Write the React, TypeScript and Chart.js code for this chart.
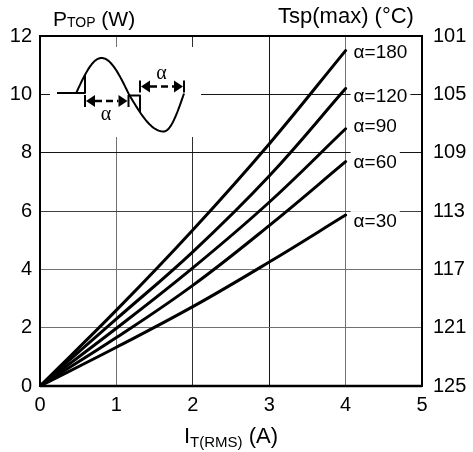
import React, { useEffect, useRef } from 'react';
import { Chart, registerables } from 'chart.js';

Chart.register(...registerables);

// ---- data ----
const currentA = [0, 1, 2, 3, 4];
const alpha180 = [0, 2.6, 5.35, 8.3, 11.5];
const alpha120 = [0, 2.3, 4.6, 7.2, 10.2];
const alpha90 = [0, 1.98, 4.05, 6.3, 8.82];
const alpha60 = [0, 1.66, 3.45, 5.5, 7.69];
const alpha30 = [0, 1.33, 2.72, 4.25, 5.86];
const seriesLabels = ['α=180', 'α=120', 'α=90', 'α=60', 'α=30'];
const rightTickLabels = ['125', '121', '117', '113', '109', '105', '101'];
const labelNudge = [1, 7, -3, 0, 6];

const FONT = '"Liberation Sans", Arial, sans-serif';
const SERIF = '"Liberation Serif", "DejaVu Serif", serif';

const allSeries = [alpha180, alpha120, alpha90, alpha60, alpha30];

const gridColorX: Record<number, string> = { 1: '#707070', 2: '#303030', 3: '#151515', 4: '#707070' };
const gridColorY: Record<number, string> = { 2: '#707070', 4: '#707070', 6: '#404040', 8: '#151515', 10: '#151515' };

function drawArrowPair(ctx: CanvasRenderingContext2D, x1: number, x2: number, y: number) {
  ctx.save();
  ctx.strokeStyle = '#000';
  ctx.fillStyle = '#000';
  ctx.lineWidth = 2;
  ctx.beginPath();
  ctx.moveTo(x1, y - 6); ctx.lineTo(x1, y + 6);
  ctx.moveTo(x2, y - 6); ctx.lineTo(x2, y + 6);
  ctx.stroke();
  ctx.beginPath();
  ctx.moveTo(x1 + 1, y); ctx.lineTo(x1 + 10, y - 6); ctx.lineTo(x1 + 10, y + 6); ctx.closePath();
  ctx.fill();
  ctx.beginPath();
  ctx.moveTo(x2 - 1, y); ctx.lineTo(x2 - 10, y - 6); ctx.lineTo(x2 - 10, y + 6); ctx.closePath();
  ctx.fill();
  ctx.setLineDash([7, 4]);
  ctx.lineWidth = 2.5;
  ctx.beginPath();
  ctx.moveTo(x1 + 10, y); ctx.lineTo(x2 - 10, y);
  ctx.stroke();
  ctx.restore();
}

const decorPlugin = {
  id: 'decor',
  beforeDatasetsDraw(chart: any) {
    const { ctx, chartArea } = chart;
    const L = chartArea.left, T = chartArea.top;
    ctx.save();
    ctx.fillStyle = '#fff';
    ctx.fillRect(L + 10, T + 11, 151, 90);
    ctx.restore();
  },
  afterDatasetsDraw(chart: any) {
    const { ctx, chartArea, scales } = chart;
    const L = chartArea.left, T = chartArea.top;
    const X = (px: number) => L + (px - 40);
    const Y = (py: number) => T + (py - 36);

    const cy = 93.5;
    const quarters = [
      { x0: 76, x1: 101.5, t0: 0, A: 35.5 },
      { x0: 101.5, x1: 128.5, t0: Math.PI / 2, A: 35.5 },
      { x0: 128.5, x1: 163.5, t0: Math.PI, A: 38 },
      { x0: 163.5, x1: 184, t0: 1.5 * Math.PI, A: 38 },
    ];
    ctx.save();
    ctx.strokeStyle = '#000';
    ctx.lineWidth = 2;
    ctx.lineJoin = 'round';
    ctx.beginPath();
    let first = true;
    for (const q of quarters) {
      for (let i = 0; i <= 30; i++) {
        const f = i / 30;
        const px = q.x0 + (q.x1 - q.x0) * f;
        const t = q.t0 + f * Math.PI / 2;
        const py = cy - q.A * Math.sin(t);
        if (first) { ctx.moveTo(X(px), Y(py)); first = false; } else ctx.lineTo(X(px), Y(py));
      }
    }
    ctx.stroke();
    ctx.beginPath();
    ctx.moveTo(X(57), Y(93)); ctx.lineTo(X(85), Y(93)); ctx.lineTo(X(85), Y(74.8));
    ctx.moveTo(X(128.5), Y(95.5)); ctx.lineTo(X(140), Y(95.5)); ctx.lineTo(X(140), Y(112.5));
    ctx.stroke();
    ctx.restore();

    drawArrowPair(ctx, X(85), X(128.5), Y(101));
    drawArrowPair(ctx, X(140), X(184), Y(86.5));

    ctx.save();
    ctx.fillStyle = '#000';
    ctx.font = `20px ${SERIF}`;
    ctx.textAlign = 'center';
    ctx.textBaseline = 'middle';
    ctx.fillText('α', X(106), Y(115));
    ctx.fillText('α', X(161.5), Y(74));
    ctx.restore();

    const xs = scales.x;
    const ys = scales.y;
    ctx.save();
    ctx.font = `19px ${FONT}`;
    ctx.textBaseline = 'middle';
    ctx.textAlign = 'left';
    allSeries.forEach((s, i) => {
      const lx = xs.getPixelForValue(currentA[currentA.length - 1]) + 7;
      const ly = ys.getPixelForValue(s[s.length - 1]) + labelNudge[i];
      const w = ctx.measureText(seriesLabels[i]).width;
      ctx.fillStyle = '#fff';
      ctx.fillRect(lx - 2, ly - 10, w + 6, 20);
      ctx.fillStyle = '#000';
      ctx.fillText(seriesLabels[i], lx + 1, ly + 1);
    });
    ctx.restore();
  },
  afterDraw(chart: any) {
    const { ctx, chartArea } = chart;
    ctx.save();
    ctx.strokeStyle = '#000';
    ctx.lineWidth = 2;
    ctx.strokeRect(chartArea.left, chartArea.top, chartArea.right - chartArea.left, chartArea.bottom - chartArea.top);
    ctx.beginPath();
    ctx.lineWidth = 2.5;
    ctx.moveTo(chartArea.left, chartArea.bottom);
    ctx.lineTo(chartArea.right, chartArea.bottom);
    ctx.stroke();

    ctx.fillStyle = '#000';
    ctx.textBaseline = 'alphabetic';
    ctx.textAlign = 'left';
    let x = 53;
    ctx.font = `21px ${FONT}`;
    ctx.fillText('P', x, 26);
    x += ctx.measureText('P').width;
    ctx.font = `14px ${FONT}`;
    ctx.fillText('TOP', x, 27);
    x += ctx.measureText('TOP').width;
    ctx.font = `21px ${FONT}`;
    ctx.fillText(' (W)', x, 26);

    ctx.font = `22px ${FONT}`;
    ctx.textAlign = 'center';
    ctx.fillText('Tsp(max) (°C)', 346, 23);

    ctx.textAlign = 'left';
    const cx = (chartArea.left + chartArea.right) / 2;
    ctx.font = `22px ${FONT}`;
    const w1 = ctx.measureText('I').width;
    const w3 = ctx.measureText(' (A)').width;
    ctx.font = `15px ${FONT}`;
    const w2 = ctx.measureText('T(RMS)').width;
    let sx = cx - (w1 + w2 + w3) / 2;
    const by = 443;
    ctx.font = `22px ${FONT}`;
    ctx.fillText('I', sx, by);
    sx += w1;
    ctx.font = `15px ${FONT}`;
    ctx.fillText('T(RMS)', sx, by + 4);
    sx += w2;
    ctx.font = `22px ${FONT}`;
    ctx.fillText(' (A)', sx, by);
    ctx.restore();
  },
};

export default function App() {
  const ref = useRef<HTMLCanvasElement | null>(null);

  useEffect(() => {
    if (!ref.current) return;
    Chart.defaults.font.family = FONT;
    Chart.defaults.color = '#000';
    const mk = (vals: number[]) => currentA.map((x, i) => ({ x, y: vals[i] }));
    const chart = new Chart(ref.current, {
      type: 'line',
      data: {
        datasets: allSeries.map((s, i) => ({
          label: seriesLabels[i],
          data: mk(s),
          borderColor: '#000',
          borderWidth: 3,
          pointRadius: 0,
          fill: false,
          tension: 0.4,
          borderCapStyle: 'round' as const,
        })),
      },
      options: {
        responsive: false,
        animation: false,
        devicePixelRatio: 1,
        layout: { padding: { top: 36, left: 0, right: 0, bottom: 0 } },
        plugins: { legend: { display: false }, tooltip: { enabled: false } },
        scales: {
          x: {
            type: 'linear',
            min: 0,
            max: 5,
            ticks: { stepSize: 1, padding: 7, font: { size: 20, family: FONT }, color: '#000' },
            grid: {
              drawTicks: false,
              lineWidth: 1,
              color: (c: any) => gridColorX[c.tick?.value] || 'rgba(0,0,0,0)',
            },
            border: { display: false },
            afterFit: (s: any) => { s.height = 66; },
          },
          y: {
            type: 'linear',
            position: 'left',
            min: 0,
            max: 12,
            ticks: { stepSize: 2, padding: 8, font: { size: 20, family: FONT }, color: '#000' },
            grid: {
              drawTicks: false,
              lineWidth: 1,
              color: (c: any) => gridColorY[c.tick?.value] || 'rgba(0,0,0,0)',
            },
            border: { display: false },
            afterFit: (s: any) => { s.width = 40; },
          },
          y1: {
            type: 'linear',
            position: 'right',
            min: 0,
            max: 12,
            ticks: {
              stepSize: 2,
              padding: 11,
              font: { size: 20, family: FONT },
              color: '#000',
              callback: (_v: any, i: number) => rightTickLabels[i],
            },
            grid: { display: false, drawTicks: false },
            border: { display: false },
            afterFit: (s: any) => { s.width = 51; },
          },
        },
      },
      plugins: [decorPlugin],
    } as any);
    return () => chart.destroy();
  }, []);

  return (
    <div style={{ position: 'absolute', left: 0, top: 0, width: 473, height: 452, background: '#fff' }}>
      <canvas ref={ref} width={473} height={452} style={{ display: 'block', width: 473, height: 452 }} />
    </div>
  );
}
